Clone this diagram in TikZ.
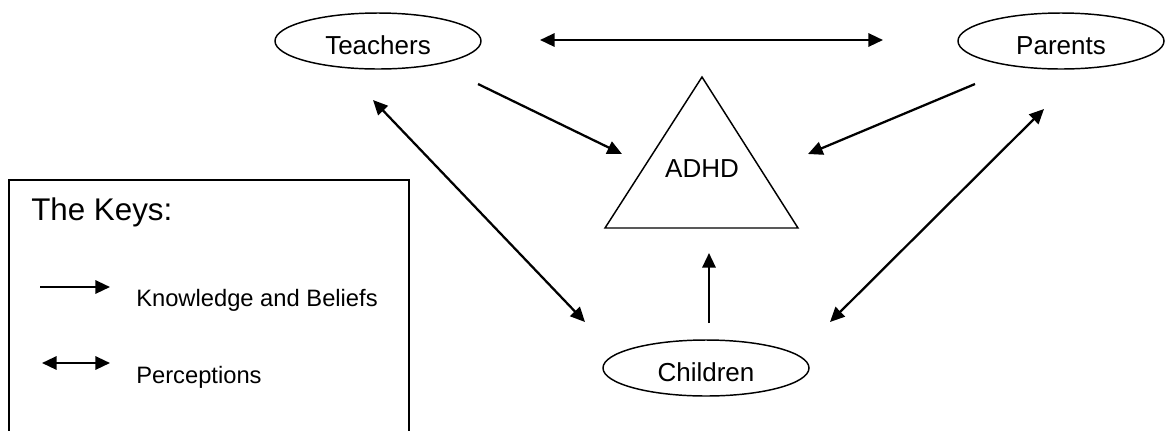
\documentclass[tikz,border=0pt]{standalone}
\usepackage{fontspec}
\setmainfont{Liberation Sans}
\usetikzlibrary{shapes.geometric,arrows.meta}
\begin{document}
\begin{tikzpicture}[x=0.75pt,y=-0.75pt,
  actor/.style={ellipse,draw,line width=1.1pt,minimum width=154.5pt,minimum height=42pt,
    inner sep=0pt,text height=19.5pt,text depth=0pt,font=\fontsize{19.5}{22}\selectfont},
  tip/.tip={Triangle[length=11pt,width=10pt]},
  kb/.style={line width=1.7pt,-tip},
  perc/.style={line width=1.7pt,tip-tip},
  keytext/.style={anchor=base west,inner sep=0pt,font=\fontsize{17.8}{20}\selectfont},
]
\useasboundingbox (0,0) rectangle (1165,430);
% actors
\node[actor] (teachers) at (378,41) {Teachers};
\node[actor] (parents) at (1061,41) {Parents};
\node[actor] (children) at (706,368) {Children};
% ADHD triangle
\draw[line width=1.1pt] (702,77) coordinate (apex) -- (798,228) coordinate (br) -- (605,228) coordinate (bl) -- cycle;
\node[inner sep=0pt,font=\fontsize{19.5}{22}\selectfont] (adhd) at (702,168.5) {ADHD};
% connector end points
\coordinate (tp1) at (540,40);
\coordinate (tp2) at (883,40);
\coordinate (ta1) at (478,84);
\coordinate (ta2) at (622,154);
\coordinate (pa1) at (975,84);
\coordinate (pa2) at (808,154);
\coordinate (ca1) at (709,323);
\coordinate (ca2) at (709,253);
\coordinate (tc1) at (373,100);
\coordinate (tc2) at (585,322);
\coordinate (pc1) at (1044,109);
\coordinate (pc2) at (830,322);
% connectors
\draw[perc] (tp1) -- (tp2);
\draw[kb] (ta1) -- (ta2);
\draw[kb] (pa1) -- (pa2);
\draw[kb] (ca1) -- (ca2);
\draw[perc] (tc1) -- (tc2);
\draw[perc] (pc1) -- (pc2);
% key box
\draw[line width=1.1pt] (9,440) -- (9,180) -- (409,180) -- (409,440);
\node[anchor=base west,inner sep=0pt,font=\fontsize{23.5}{27}\selectfont] (keys) at (31,220) {The Keys:};
\coordinate (k1a) at (40,287);
\coordinate (k1b) at (110,287);
\coordinate (k2a) at (42,363);
\coordinate (k2b) at (110,363);
\draw[kb] (k1a) -- (k1b);
\draw[perc] (k2a) -- (k2b);
\node[keytext] (know) at (136,306) {Knowledge and Beliefs};
\node[keytext] (perc) at (136,383) {Perceptions};
\end{tikzpicture}
\end{document}
